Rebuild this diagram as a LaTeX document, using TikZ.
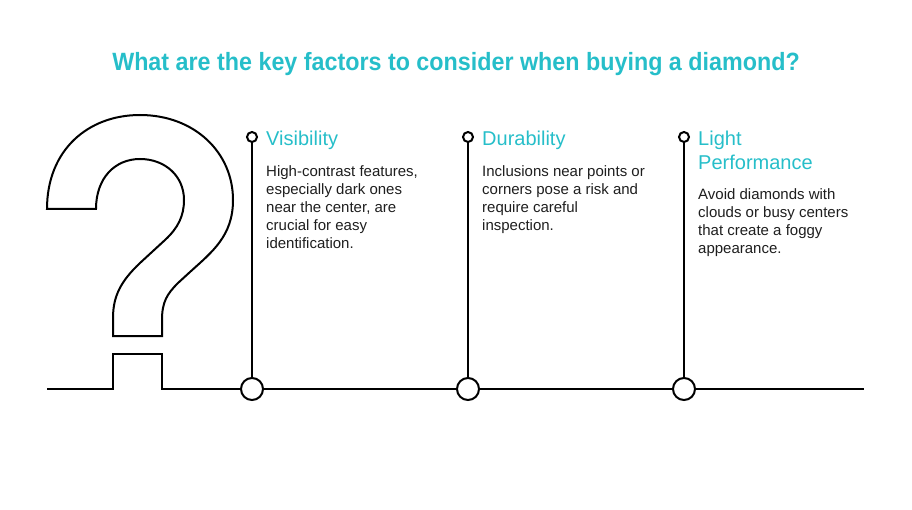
\documentclass[tikz,border=0pt]{standalone}
\usepackage{fontspec}
\setmainfont{Liberation Sans}
\definecolor{accent}{RGB}{38,190,201}
\definecolor{bodytext}{RGB}{30,30,30}
\tikzset{
  qline/.style={line width=2pt, black, line join=miter},
  bigdot/.style={circle, draw=black, line width=2pt, fill=white, minimum size=22pt, inner sep=0pt},
  smalldot/.style={circle, draw=black, line width=2pt, fill=white, minimum size=10pt, inner sep=0pt},
  heading/.style={anchor=base west, inner sep=0pt, text=accent, font=\fontsize{20}{24}\selectfont, align=left},
  bodyblock/.style={anchor=north west, inner sep=0pt, text=bodytext, font=\fontsize{15}{18}\selectfont, align=left},
}
\begin{document}
\begin{tikzpicture}[x=1pt,y=-1pt]
\useasboundingbox (0,0) rectangle (912,510);
% title
\node[text=accent, font=\fontsize{25}{30}\selectfont\bfseries, inner sep=0pt, anchor=base] (title) at (456,71) {\scalebox{0.932}[1]{What are the key factors to consider when buying a diamond?}};
% question mark
\draw[qline] (47,209) .. controls (47,150) and (88,115) .. (140,115)
  .. controls (194,115) and (233,152) .. (233,200)
  .. controls (233,236) and (212,252) .. (190,272) -- (178,283)
  .. controls (167,294) and (162,302) .. (162,320) -- (162,336) -- (113,336) -- (113,318)
  .. controls (113,296) and (121,281) .. (140,263) -- (165,240)
  .. controls (178,228) and (184,216) .. (184,200)
  .. controls (184,176) and (165,159) .. (140,159)
  .. controls (115,159) and (96,178) .. (96,209) -- cycle;
% baseline with dot
\coordinate (lstart) at (47,389);
\coordinate (lend) at (864,389);
\draw[qline] (lstart) -- (113,389) -- (113,354) -- (162,354) -- (162,389) -- (lend);
% items
\foreach \n/\x in {a/252,b/468,c/684}{
  \node[smalldot] (s\n) at (\x,137) {};
  \node[bigdot] (d\n) at (\x,389) {};
  \draw[line width=2pt] (s\n) -- (d\n);
}
\node[heading] (ha) at (266,146) {Visibility};
\node[bodyblock] (ba) at (266,165) {High-contrast features,\\especially dark ones\\near the center, are\\crucial for easy\\identification.};
\node[heading] (hb) at (482,146) {Durability};
\node[bodyblock] (bb) at (482,165) {Inclusions near points or\\corners pose a risk and\\require careful\\inspection.};
\node[heading] (hc) at (698,170) {Light\\Performance};
\node[bodyblock] (bc) at (698,188) {Avoid diamonds with\\clouds or busy centers\\that create a foggy\\appearance.};
\end{tikzpicture}
\end{document}
